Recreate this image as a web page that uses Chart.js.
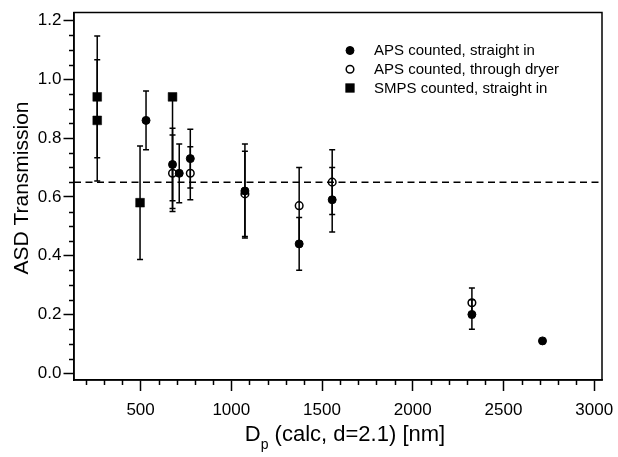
<!DOCTYPE html>
<html>
<head>
<meta charset="utf-8">
<script src="https://cdn.jsdelivr.net/npm/chart.js@4.4.0/dist/chart.umd.min.js"></script>
<style>
  html, body { margin: 0; padding: 0; background: #fff; }
</style>
</head>
<body>
<canvas id="c" width="618" height="457"></canvas>
<script>
'use strict';

// APS counted, straight in
const apsStraightX = [530, 676, 713, 774, 1075, 1374, 1556, 2326, 2715];
const apsStraightY = [0.86, 0.71, 0.68, 0.73, 0.62, 0.44, 0.59, 0.20, 0.11];
const apsStraightErr = [0.10, 0.123, 0.10, 0.10, 0.16, 0.09, 0.11, 0.05, 0];

// APS counted, through dryer
const apsDryerX = [676, 774, 1075, 1374, 1556, 2326];
const apsDryerY = [0.68, 0.68, 0.61, 0.57, 0.65, 0.24];
const apsDryerErr = [0.13, 0.09, 0.145, 0.13, 0.11, 0.05];

// SMPS counted, straight in (last point only has a lower bar)
const smpsX = [261, 261, 497, 676];
const smpsY = [0.94, 0.86, 0.58, 0.94];
const smpsErrUp = [0.207, 0.206, 0.193, 0];
const smpsErrDown = [0.207, 0.206, 0.193, 0.38];

const refLevel = 0.65;

const xTicks = [500, 1000, 1500, 2000, 2500, 3000];
const yTicks = [0.0, 0.2, 0.4, 0.6, 0.8, 1.0, 1.2];
const xRange = [133, 3043];
const yRange = [-0.023, 1.227];

const FONT = '"Liberation Sans", Arial, Helvetica, sans-serif';
Chart.defaults.font.family = FONT;
Chart.defaults.color = '#000';

function pts(xs, ys) {
  return xs.map((x, i) => ({ x: x, y: ys[i] }));
}

// vertical error bars with small caps, drawn under the markers
const errorBars = {
  id: 'errorBars',
  beforeDatasetsDraw(chart) {
    const ctx = chart.ctx;
    const xs = chart.scales.x, ys = chart.scales.y;
    ctx.save();
    ctx.strokeStyle = '#000';
    ctx.lineWidth = 1.5;
    chart.data.datasets.forEach(ds => {
      if (!ds.errUp) return;
      ds.data.forEach((p, i) => {
        const up = ds.errUp[i], down = ds.errDown[i];
        if (!up && !down) return;
        const px = xs.getPixelForValue(p.x);
        const top = ys.getPixelForValue(p.y + up);
        const bot = ys.getPixelForValue(p.y - down);
        ctx.beginPath();
        ctx.moveTo(px, top);
        ctx.lineTo(px, bot);
        if (up) { ctx.moveTo(px - 3, top); ctx.lineTo(px + 3, top); }
        if (down) { ctx.moveTo(px - 3, bot); ctx.lineTo(px + 3, bot); }
        ctx.stroke();
      });
    });
    ctx.restore();
  }
};

// frame, minor ticks, axis titles and the legend box
const decorations = {
  id: 'decorations',
  afterDraw(chart) {
    const ctx = chart.ctx;
    const a = chart.chartArea;
    const xs = chart.scales.x, ys = chart.scales.y;
    ctx.save();
    ctx.strokeStyle = '#000';
    ctx.lineWidth = 1.5;
    ctx.strokeRect(a.left, a.top, a.right - a.left, a.bottom - a.top);

    ctx.beginPath();
    for (let v = 200; v <= 3000; v += 100) {
      if (v % 500 === 0) continue;
      const px = Math.round(xs.getPixelForValue(v)) + 0.5;
      ctx.moveTo(px, a.bottom);
      ctx.lineTo(px, a.bottom + 5);
    }
    for (let k = 0; k <= 24; k++) {
      if (k % 4 === 0) continue;
      const py = Math.round(ys.getPixelForValue(k * 0.05)) + 0.5;
      ctx.moveTo(a.left - 5, py);
      ctx.lineTo(a.left, py);
    }
    ctx.stroke();

    // y title
    ctx.fillStyle = '#000';
    ctx.save();
    ctx.translate(27.5, 188);
    ctx.rotate(-Math.PI / 2);
    ctx.font = '21px ' + FONT;
    ctx.textAlign = 'center';
    ctx.textBaseline = 'alphabetic';
    ctx.fillText('ASD Transmission', 0, 0);
    ctx.restore();

    // x title with subscript p
    ctx.textAlign = 'left';
    ctx.textBaseline = 'alphabetic';
    const big = '22px ' + FONT, small = '14px ' + FONT;
    const rest = ' (calc, d=2.1) [nm]';
    ctx.font = big;
    const wD = ctx.measureText('D').width;
    const wR = ctx.measureText(rest).width;
    ctx.font = small;
    const wP = ctx.measureText('p').width;
    let x0 = 345 - (wD + wP + wR) / 2;
    const base = 441;
    ctx.font = big;
    ctx.fillText('D', x0, base);
    ctx.font = small;
    ctx.fillText('p', x0 + wD, base + 8);
    ctx.font = big;
    ctx.fillText(rest, x0 + wD + wP, base);

    // legend
    const rows = [50.5, 69.2, 88];
    ctx.font = '15px ' + FONT;
    ctx.textBaseline = 'middle';
    chart.data.datasets.slice(0, 3).forEach((ds, i) => {
      const mx = 350, my = rows[i];
      ctx.beginPath();
      if (ds.pointStyle === 'rect') {
        const s = ds.pointRadius * Math.SQRT1_2;
        ctx.rect(mx - s, my - s, 2 * s, 2 * s);
      } else {
        ctx.arc(mx, my, ds.pointRadius, 0, Math.PI * 2);
      }
      ctx.fillStyle = ds.backgroundColor;
      ctx.fill();
      ctx.lineWidth = ds.borderWidth;
      ctx.strokeStyle = ds.borderColor;
      ctx.stroke();
      ctx.fillStyle = '#000';
      ctx.fillText(ds.label, 374, my + 0.5);
    });
    ctx.restore();
  }
};

new Chart(document.getElementById('c'), {
  type: 'scatter',
  data: {
    datasets: [
      {
        label: 'APS counted, straight in',
        data: pts(apsStraightX, apsStraightY),
        errUp: apsStraightErr, errDown: apsStraightErr,
        pointStyle: 'circle', pointRadius: 4, borderWidth: 1,
        backgroundColor: '#000', borderColor: '#000'
      },
      {
        label: 'APS counted, through dryer',
        data: pts(apsDryerX, apsDryerY),
        errUp: apsDryerErr, errDown: apsDryerErr,
        pointStyle: 'circle', pointRadius: 3.8, borderWidth: 1.5,
        backgroundColor: 'rgba(255,255,255,0)', borderColor: '#000'
      },
      {
        label: 'SMPS counted, straight in',
        data: pts(smpsX, smpsY),
        errUp: smpsErrUp, errDown: smpsErrDown,
        pointStyle: 'rect', pointRadius: 6.2, borderWidth: 0.5,
        backgroundColor: '#000', borderColor: '#000'
      },
      {
        type: 'line',
        label: 'reference',
        data: [{ x: xRange[0], y: refLevel }, { x: xRange[1], y: refLevel }],
        borderColor: '#000', borderWidth: 1.5, borderDash: [7, 4.5],
        pointRadius: 0, fill: false
      }
    ]
  },
  options: {
    responsive: false,
    animation: false,
    devicePixelRatio: 1,
    layout: { padding: { left: 0, right: 16, top: 12.5, bottom: 0 } },
    plugins: {
      legend: { display: false },
      tooltip: { enabled: false }
    },
    scales: {
      x: {
        type: 'linear',
        position: 'bottom',
        min: xRange[0], max: xRange[1],
        afterBuildTicks: s => { s.ticks = xTicks.map(v => ({ value: v })); },
        afterFit: s => { s.height = 77; s.paddingLeft = 0; s.paddingRight = 0; },
        ticks: {
          font: { size: 17 }, color: '#000', padding: 9,
          maxRotation: 0, autoSkip: false,
          callback: v => String(v)
        },
        grid: {
          drawOnChartArea: false, drawTicks: true,
          tickLength: 11, tickWidth: 1.5, tickColor: '#000'
        },
        border: { display: true, color: '#000', width: 1.5 },
        title: { display: false }
      },
      y: {
        type: 'linear',
        min: yRange[0], max: yRange[1],
        afterBuildTicks: s => { s.ticks = yTicks.map(v => ({ value: v })); },
        afterFit: s => { s.width = 74; s.paddingTop = 0; s.paddingBottom = 0; },
        ticks: {
          font: { size: 17 }, color: '#000', padding: 2,
          callback: v => v.toFixed(1)
        },
        grid: {
          drawOnChartArea: false, drawTicks: true,
          tickLength: 10.5, tickWidth: 1.5, tickColor: '#000'
        },
        border: { display: true, color: '#000', width: 1.5 },
        title: { display: false }
      }
    }
  },
  plugins: [errorBars, decorations]
});
</script>
</body>
</html>
